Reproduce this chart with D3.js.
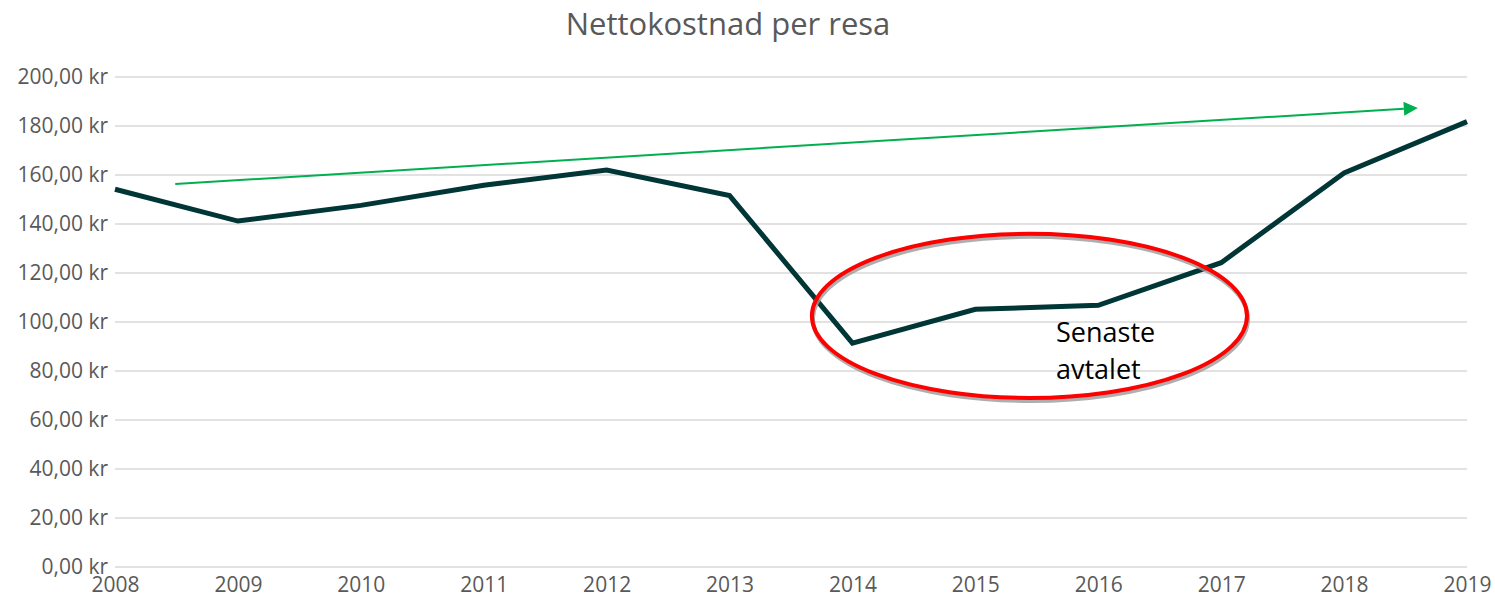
<!DOCTYPE html>
<html>
<head>
<meta charset="utf-8">
<script src="https://cdn.jsdelivr.net/npm/d3@7"></script>
<style>
  body { margin: 0; background: #fff; }
  svg { display: block; }
  svg text { font-family: "Open Sans", "Noto Sans", sans-serif; }
</style>
</head>
<body>
<script>
// chart data
const years = [2008, 2009, 2010, 2011, 2012, 2013, 2014, 2015, 2016, 2017, 2018, 2019];
const cost = [154.2, 141.2, 147.6, 155.8, 162.0, 151.6, 91.4, 105.2, 106.8, 124.2, 160.8, 181.8];
const yTicks = [0, 20, 40, 60, 80, 100, 120, 140, 160, 180, 200];

// annotations (in data units)
const trendFrom = [2008.49, 156.3];
const trendTo = [2018.6, 187.4];
const ellipseCenter = [2015.44, 102.5];
const ellipseRadius = [1.77, 33.5]; // years, kr
const noteLines = ["Senaste", "avtalet"];

const width = 1495, height = 597;
const margin = { left: 115, right: 28, top: 77, bottom: 30 };

const svg = d3.select("body").append("svg")
    .attr("width", width)
    .attr("height", height);

const x = d3.scaleLinear()
    .domain([years[0], years[years.length - 1]])
    .range([margin.left, width - margin.right]);

const y = d3.scaleLinear()
    .domain([0, 200])
    .range([height - margin.bottom, margin.top]);

// title
svg.append("text")
    .attr("x", 728)
    .attr("y", 35)
    .attr("text-anchor", "middle")
    .attr("fill", "#595959")
    .style("font-size", "31px")
    .text("Nettokostnad per resa");

// gridlines
svg.append("g")
    .selectAll("line")
    .data(yTicks)
    .join("line")
    .attr("x1", x.range()[0])
    .attr("x2", x.range()[1])
    .attr("y1", d => y(d))
    .attr("y2", d => y(d))
    .attr("stroke", "#d9d9d9")
    .attr("stroke-width", 1.5);

// y axis
const fmt = d => d.toFixed(2).replace(".", ",") + " kr";
const yAxis = svg.append("g")
    .attr("transform", `translate(${margin.left - 7},0)`)
    .call(d3.axisLeft(y).tickValues(yTicks).tickFormat(fmt).tickSize(0));
yAxis.select(".domain").remove();
yAxis.selectAll("text")
    .attr("fill", "#595959")
    .attr("x", 0)
    .attr("dy", "0.33em")
    .style("font-size", "21px");

// x axis
const xAxis = svg.append("g")
    .attr("transform", `translate(0,${height - margin.bottom})`)
    .call(d3.axisBottom(x).tickValues(years).tickFormat(d3.format("d")).tickSize(0));
xAxis.select(".domain").remove();
xAxis.selectAll("text")
    .attr("fill", "#595959")
    .attr("y", 25)
    .attr("dy", 0)
    .style("font-size", "21px");

// main line
const line = d3.line()
    .x((d, i) => x(years[i]))
    .y(d => y(d));

svg.append("path")
    .datum(cost)
    .attr("d", line)
    .attr("fill", "none")
    .attr("stroke", "#003636")
    .attr("stroke-width", 5)
    .attr("stroke-linejoin", "miter");

// trend arrow
svg.append("defs").append("marker")
    .attr("id", "arrow")
    .attr("viewBox", "0 0 10 10")
    .attr("refX", 0)
    .attr("refY", 5)
    .attr("markerWidth", 16)
    .attr("markerHeight", 14)
    .attr("markerUnits", "userSpaceOnUse")
    .attr("orient", "auto")
    .append("path")
    .attr("d", "M0,0 L10,5 L0,10 Z")
    .attr("fill", "#00b050");

svg.append("line")
    .attr("x1", x(trendFrom[0]))
    .attr("y1", y(trendFrom[1]))
    .attr("x2", x(trendTo[0]) - 14)
    .attr("y2", y(trendTo[1]) + 0.9)
    .attr("stroke", "#00b050")
    .attr("stroke-width", 2)
    .attr("marker-end", "url(#arrow)");

// ellipse highlight with shadow
const ecx = x(ellipseCenter[0]), ecy = y(ellipseCenter[1]);
const erx = x(ellipseCenter[0] + ellipseRadius[0]) - ecx;
const ery = ecy - y(ellipseCenter[1] + ellipseRadius[1]);

svg.append("ellipse")
    .attr("cx", ecx + 1)
    .attr("cy", ecy + 3)
    .attr("rx", erx)
    .attr("ry", ery)
    .attr("fill", "none")
    .attr("stroke", "#9a9a9a")
    .attr("stroke-width", 4)
    .attr("opacity", 0.8);

svg.append("ellipse")
    .attr("cx", ecx)
    .attr("cy", ecy)
    .attr("rx", erx)
    .attr("ry", ery)
    .attr("fill", "none")
    .attr("stroke", "#ff0000")
    .attr("stroke-width", 4);

// note
svg.append("text")
    .attr("x", 1056)
    .attr("y", 342)
    .attr("fill", "#000")
    .style("font-size", "27px")
    .selectAll("tspan")
    .data(noteLines)
    .join("tspan")
    .attr("x", 1056)
    .attr("dy", (d, i) => i === 0 ? 0 : 37)
    .text(d => d);
</script>
</body>
</html>
